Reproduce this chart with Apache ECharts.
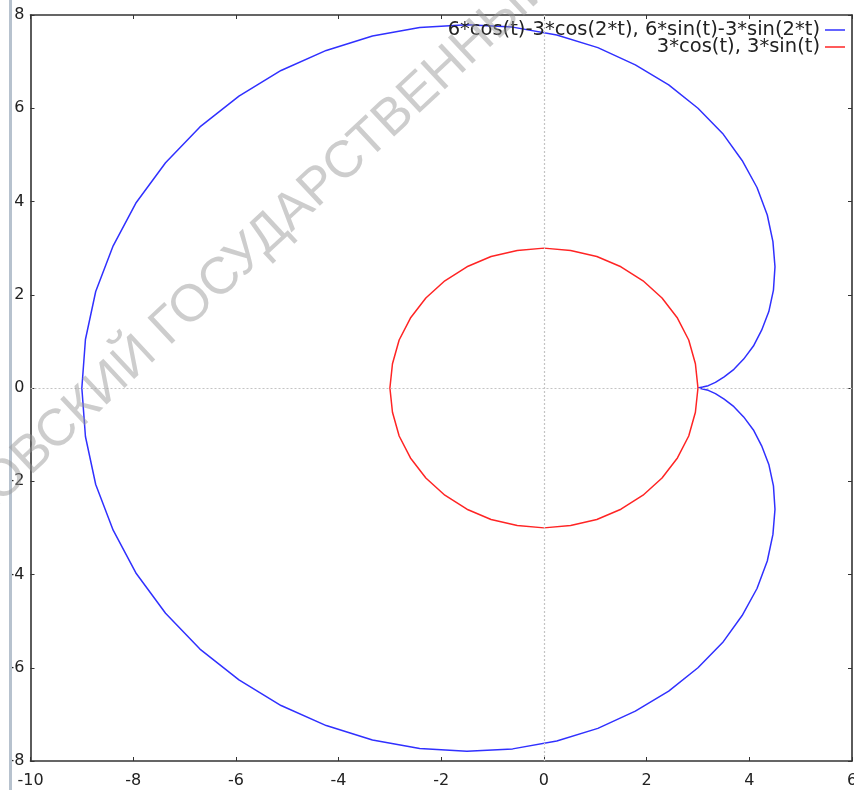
<!DOCTYPE html>
<html>
<head>
<meta charset="utf-8">
<script src="https://cdn.jsdelivr.net/npm/echarts@6/dist/echarts.min.js"></script>
<style>
  html, body { margin: 0; padding: 0; background: #fff; }
  #chart { width: 854px; height: 790px; }
</style>
</head>
<body>
<div id="chart"></div>
<script>
// Axis ranges and ticks
const xTicks = [-10, -8, -6, -4, -2, 0, 2, 4, 6];
const yTicks = [-8, -6, -4, -2, 0, 2, 4, 6, 8];

// Curve 1: 6*cos(t)-3*cos(2*t), 6*sin(t)-3*sin(2*t)
const cardioidName = '6*cos(t)-3*cos(2*t), 6*sin(t)-3*sin(2*t)';
const cardioidX = [
  3.00, 3.02, 3.09, 3.20, 3.34, 3.51, 3.70, 3.89, 4.08, 4.24, 4.38, 4.47, 4.50, 4.46, 4.35, 4.15, 3.86, 3.48,
  3.00, 2.43, 1.78, 1.05, 0.25, -0.61, -1.50, -2.42, -3.34, -4.24, -5.12, -5.94, -6.70, -7.37, -7.94, -8.39, -8.73, -8.93,
  -9.00,
  -8.93, -8.73, -8.39, -7.94, -7.37, -6.70, -5.94, -5.12, -4.24, -3.34, -2.42, -1.50, -0.61, 0.25, 1.05, 1.78, 2.43,
  3.00, 3.48, 3.86, 4.15, 4.35, 4.46, 4.50, 4.47, 4.38, 4.24, 4.08, 3.89, 3.70, 3.51, 3.34, 3.20, 3.09, 3.02, 3.00
];
const cardioidY = [
  0.00, 0.00, 0.02, 0.05, 0.12, 0.24, 0.40, 0.62, 0.90, 1.24, 1.64, 2.10, 2.60, 3.14, 3.71, 4.30, 4.88, 5.46,
  6.00, 6.50, 6.93, 7.30, 7.57, 7.74, 7.79, 7.73, 7.55, 7.24, 6.81, 6.26, 5.60, 4.83, 3.98, 3.05, 2.07, 1.04,
  0.00,
  -1.04, -2.07, -3.05, -3.98, -4.83, -5.60, -6.26, -6.81, -7.24, -7.55, -7.73, -7.79, -7.74, -7.57, -7.30, -6.93, -6.50,
  -6.00, -5.46, -4.88, -4.30, -3.71, -3.14, -2.60, -2.10, -1.64, -1.24, -0.90, -0.62, -0.40, -0.24, -0.12, -0.05, -0.02, 0.00, 0.00
];

// Curve 2: 3*cos(t), 3*sin(t)
const circleName = '3*cos(t), 3*sin(t)';
const circleX = [
  3.00, 2.95, 2.82, 2.60, 2.30, 1.93, 1.50, 1.03, 0.52, 0.00, -0.52, -1.03, -1.50, -1.93, -2.30, -2.60, -2.82, -2.95,
  -3.00, -2.95, -2.82, -2.60, -2.30, -1.93, -1.50, -1.03, -0.52, 0.00, 0.52, 1.03, 1.50, 1.93, 2.30, 2.60, 2.82, 2.95, 3.00
];
const circleY = [
  0.00, 0.52, 1.03, 1.50, 1.93, 2.30, 2.60, 2.82, 2.95, 3.00, 2.95, 2.82, 2.60, 2.30, 1.93, 1.50, 1.03, 0.52,
  0.00, -0.52, -1.03, -1.50, -1.93, -2.30, -2.60, -2.82, -2.95, -3.00, -2.95, -2.82, -2.60, -2.30, -1.93, -1.50, -1.03, -0.52, 0.00
];

const watermarkText = 'МОСКОВСКИЙ ГОСУДАРСТВЕННЫЙ';

function zip(xs, ys) { return xs.map((x, i) => [x, ys[i]]); }

const chart = echarts.init(document.getElementById('chart'), null, { renderer: 'canvas' });

const font = 'DejaVu Sans';
const frame = { show: true, onZero: false, lineStyle: { color: '#333', width: 1.6 } };
const tickIn = { show: true, inside: true, length: 4, lineStyle: { color: '#333', width: 1 } };

const baseX = {
  type: 'value', min: xTicks[0], max: xTicks[xTicks.length - 1], interval: 2,
  axisLine: frame, axisTick: tickIn, splitLine: { show: false }
};
const baseY = {
  type: 'value', min: yTicks[0], max: yTicks[yTicks.length - 1], interval: 2,
  axisLine: frame, axisTick: tickIn, splitLine: { show: false }
};

const legendText = { color: '#222', fontFamily: font, fontSize: 19.5 };

chart.setOption({
  backgroundColor: '#ffffff',
  animation: false,
  grid: { left: 30.5, right: 2, top: 15, bottom: 29, containLabel: false, outerBoundsMode: 'none' },
  xAxis: [
    Object.assign({}, baseX, {
      position: 'bottom',
      axisLabel: { color: '#222', fontFamily: font, fontSize: 16, margin: 12, showMinLabel: true, showMaxLabel: true }
    }),
    Object.assign({}, baseX, { position: 'top', axisLabel: { show: false } })
  ],
  yAxis: [
    Object.assign({}, baseY, {
      position: 'left',
      axisLabel: { color: '#222', fontFamily: font, fontSize: 16, margin: 6, showMinLabel: true, showMaxLabel: true }
    }),
    Object.assign({}, baseY, { position: 'right', axisLabel: { show: false } })
  ],
  legend: [
    {
      data: [cardioidName], right: 9, top: 20, padding: 0, icon: 'rect',
      itemWidth: 20, itemHeight: 1.5, align: 'right', textStyle: legendText, selectedMode: false
    },
    {
      data: [circleName], right: 9, top: 37, padding: 0, icon: 'rect',
      itemWidth: 20, itemHeight: 1.5, align: 'right', textStyle: legendText, selectedMode: false
    }
  ],
  series: [
    {
      name: 'zero axes', type: 'line', data: [], silent: true,
      markLine: {
        silent: true, symbol: 'none', label: { show: false },
        lineStyle: { color: '#c4c4c4', type: [2, 2], width: 1.2 },
        data: [{ xAxis: 0 }, { yAxis: 0 }]
      }
    },
    {
      name: cardioidName, type: 'line', symbol: 'none', smooth: false,
      lineStyle: { color: '#3030ff', width: 1.5 }, itemStyle: { color: '#3030ff' },
      data: zip(cardioidX, cardioidY), z: 3
    },
    {
      name: circleName, type: 'line', symbol: 'none', smooth: false,
      lineStyle: { color: '#ff2424', width: 1.5 }, itemStyle: { color: '#ff2424' },
      data: zip(circleX, circleY), z: 3
    }
  ],
  graphic: [
    { type: 'rect', shape: { x: 9, y: 0, width: 3, height: 790 }, style: { fill: '#b7c2ce' }, z: 50 },
    {
      type: 'text', x: 214, y: 285, rotation: 43 * Math.PI / 180, z: 100, silent: true,
      style: {
        text: watermarkText, align: 'center', verticalAlign: 'middle',
        font: 'normal 52px "Liberation Sans"', fill: 'rgba(150,150,150,0.48)'
      }
    }
  ]
});
</script>
</body>
</html>
